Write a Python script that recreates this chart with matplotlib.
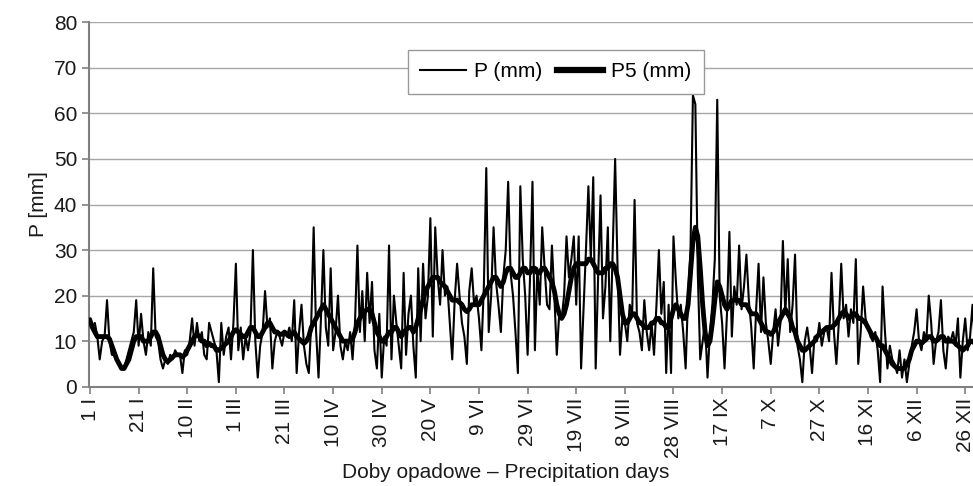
import matplotlib
matplotlib.use("Agg")
import matplotlib.pyplot as plt
import numpy as np

plt.rcParams["font.family"] = ["Liberation Sans", "DejaVu Sans"]

# daily precipitation P (mm), one value per day of a leap year
P = [
    15, 13, 14, 11, 6, 10, 11, 19, 10, 7,
    7, 6, 5, 4, 4, 6, 8, 10, 12, 19,
    9, 16, 10, 7, 12, 9, 26, 11, 10, 6,
    4, 6, 5, 7, 6, 8, 7, 7, 3, 8,
    7, 10, 15, 9, 14, 10, 12, 7, 6, 14,
    12, 10, 8, 1, 14, 7, 11, 13, 6, 14,
    27, 8, 13, 6, 11, 8, 12, 30, 10, 2,
    9, 12, 21, 13, 15, 4, 10, 12, 11, 9,
    12, 11, 13, 10, 19, 3, 12, 18, 9, 5,
    3, 14, 35, 12, 2, 15, 30, 13, 9, 26,
    8, 12, 20, 9, 6, 10, 8, 12, 6, 14,
    31, 12, 21, 10, 25, 14, 23, 8, 4, 16,
    2, 11, 9, 31, 6, 20, 14, 9, 4, 25,
    7, 16, 20, 9, 2, 26, 10, 27, 15, 20,
    37, 11, 35, 24, 18, 30, 20, 22, 14, 6,
    19, 27, 20, 14, 11, 5, 21, 26, 18, 20,
    15, 8, 22, 48, 12, 20, 35, 23, 18, 12,
    24, 30, 45, 25, 20, 12, 3, 44, 28, 20,
    7, 24, 45, 8, 26, 18, 35, 26, 18, 17,
    31, 20, 7, 16, 15, 20, 33, 24, 28, 33,
    18, 33, 4, 17, 30, 44, 28, 46, 4, 24,
    42, 15, 22, 35, 10, 30, 50, 26, 7, 15,
    14, 10, 18, 16, 41, 14, 12, 8, 19, 12,
    8, 14, 7, 18, 30, 16, 23, 3, 18, 3,
    33, 23, 15, 18, 12, 4, 20, 30, 64, 62,
    25, 6, 10, 14, 2, 12, 18, 28, 63, 20,
    14, 4, 16, 34, 11, 22, 18, 31, 17, 22,
    29, 19, 13, 4, 17, 27, 12, 24, 14, 10,
    5, 12, 17, 9, 14, 32, 16, 28, 12, 18,
    29, 9, 6, 1, 10, 13, 9, 3, 11, 10,
    14, 9, 12, 13, 10, 25, 12, 5, 14, 27,
    15, 18, 11, 17, 14, 28, 5, 12, 22, 15,
    13, 11, 10, 12, 8, 1, 22, 12, 4, 9,
    6, 5, 3, 8, 2, 6, 1, 5, 9, 12,
    17, 10, 8, 12, 10, 20, 14, 5, 10, 12,
    19, 8, 4, 11, 10, 12, 9, 15, 2, 10,
    15, 8, 11, 18, 9, 7,
]

# P5 (mm), thick line
P5 = [
    14.5, 13, 12, 11, 11, 11, 11, 11, 10.5, 9,
    7.5, 6, 5, 4, 4, 5, 6, 8, 10, 11,
    11, 11, 10, 10, 10, 11, 12, 12, 11, 9,
    7, 6, 5.5, 6, 6.5, 7, 7, 7, 6.5, 7,
    8, 9, 10, 11, 11.5, 11, 10, 10, 9, 9.5,
    9, 9, 8, 8, 8.5, 9, 9.5, 10, 11, 12,
    12.5, 12, 11.5, 11, 11, 12, 13, 13, 12, 11,
    11, 12, 13, 14, 14, 13, 12, 12, 11.5, 11.5,
    12, 11.5, 11, 11.5, 12, 11, 10.5, 10, 9.5, 10,
    11, 13, 14, 15, 16, 17, 18, 17, 16, 15,
    14, 13, 12, 11, 10, 10, 10, 10, 10.5, 12,
    14, 15, 16, 16.5, 17, 17, 16, 14, 12, 11,
    10, 10, 11, 12, 12, 13, 13, 12, 11, 12,
    12.5, 13, 13, 12, 13, 15, 17, 19, 21, 22,
    23, 24, 24, 24, 23, 22.5, 22, 21, 20, 19,
    19, 19, 18.5, 18, 17, 16.5, 17, 18, 18, 18,
    18, 19, 20, 21, 22, 23, 24, 24, 23, 22,
    23, 25, 26, 26, 25, 24, 24, 25, 26, 26,
    25, 25, 26, 26, 25, 25, 26, 26, 25, 24,
    23, 21, 18, 16, 15, 16, 18, 21, 24, 26,
    27, 27, 27, 27, 27, 28, 28, 27, 26, 25,
    25, 25, 26, 26, 27, 27, 26, 24, 20, 16,
    14, 14, 15, 16, 16, 15, 14, 14, 13, 13,
    13, 14, 14, 15, 15, 14, 14, 13, 13, 15,
    17, 18, 17, 16, 15, 15, 18, 25, 32, 35,
    33, 26, 18, 12, 9, 10, 14, 19, 23, 22,
    20, 18, 17, 18, 19, 19, 19, 19, 18, 18,
    18, 17, 16, 16, 16, 15, 14, 13, 12, 12,
    11.5, 12, 13, 14, 15, 16, 17, 16, 15, 13,
    12, 10, 9, 8, 8, 8.5, 9, 9.5, 10, 11,
    11.5, 12, 12.5, 13, 13, 13, 13.5, 14, 15, 16,
    16.5, 16, 15, 15.5, 16, 16, 15, 15, 14.5, 14,
    13, 12, 11, 11, 10, 9, 9, 8, 7, 6,
    5, 4.5, 4, 4, 4, 4, 5, 6, 8, 9,
    10, 10, 9.5, 10, 10.5, 11, 11, 10, 10, 10.5,
    11, 11, 10, 10, 10, 10, 9.5, 9, 8.5, 8,
    8.5, 9, 10, 10, 9.5, 9,
]

TICK_LABELS = [
    "1 I", "21 I", "10 II", "1 III", "21 III", "10 IV", "30 IV", "20 V",
    "9 VI", "29 VI", "19 VII", "8 VIII", "28 VIII", "17 IX", "7 X", "27 X",
    "16 XI", "6 XII", "26 XII",
]
TICK_STEP = 20

FONT_SIZE = 15
TEXT_COLOR = "#1a1a1a"


def main():
    days = np.arange(len(P))

    fig = plt.figure(figsize=(9.73, 4.86), dpi=100)
    ax = fig.add_axes([0.0915, 0.2043, 0.9085, 0.7498])

    ax.plot(days, P, color="black", linewidth=1.5, label="P (mm)", zorder=3)
    ax.plot(days, P5, color="black", linewidth=3.5, label="P5 (mm)", zorder=4)

    ax.set_xlim(-0.4, 363.2)
    ax.set_ylim(0, 80)
    ax.set_yticks(range(0, 81, 10))
    ax.set_xticks(np.arange(len(TICK_LABELS)) * TICK_STEP)
    ax.set_xticklabels(TICK_LABELS, rotation=90)

    ax.grid(axis="y", color="#a6a6a6", linewidth=1.0)
    ax.set_axisbelow(True)
    for side in ["top", "right"]:
        ax.spines[side].set_visible(False)
    for side in ["left", "bottom"]:
        ax.spines[side].set_color("#808080")
        ax.spines[side].set_linewidth(1.5)

    ax.tick_params(axis="both", colors="#808080", labelcolor=TEXT_COLOR,
                   labelsize=FONT_SIZE, length=5, width=1.2, direction="out")
    ax.tick_params(axis="x", pad=3)

    ax.set_ylabel("P [mm]", fontsize=FONT_SIZE, color=TEXT_COLOR, labelpad=4)
    fig.text(506 / 973, 1 - 472 / 486, "Doby opadowe – Precipitation days",
             fontsize=FONT_SIZE, color=TEXT_COLOR, ha="center", va="center")

    leg = ax.legend(loc="center", bbox_to_anchor=(0.528, 0.865), ncol=2,
                    fontsize=FONT_SIZE, frameon=True, fancybox=False,
                    handlelength=2.2, columnspacing=0.7, handletextpad=0.4,
                    borderpad=0.6, borderaxespad=0.0)
    leg.get_frame().set_edgecolor("#999999")
    leg.get_frame().set_linewidth(1.0)
    leg.get_frame().set_alpha(1.0)
    leg.get_lines()[1].set_linewidth(4.5)

    fig.savefig("out.png", dpi=100)
    plt.close(fig)


if __name__ == "__main__":
    main()
